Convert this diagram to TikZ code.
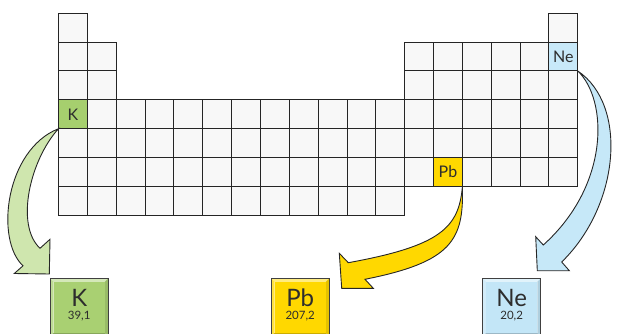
\documentclass[tikz,border=0pt]{standalone}
\usepackage{fontspec}
\setmainfont{Lato}
\usetikzlibrary{calc}
\definecolor{gridfill}{HTML}{F8F8F8}
\definecolor{gridline}{HTML}{252525}
\definecolor{Kcell}{HTML}{A6CF6E}
\definecolor{Karrow}{HTML}{CFE6AE}
\definecolor{Kbox}{HTML}{A9D072}
\definecolor{Pbcell}{HTML}{FFD800}
\definecolor{Pbarrow}{HTML}{FFD800}
\definecolor{Pbbox}{HTML}{FFD800}
\definecolor{Necell}{HTML}{C8E9F9}
\definecolor{Nearrow}{HTML}{C6E8F8}
\definecolor{Nebox}{HTML}{C3E6F7}
\definecolor{txt}{HTML}{2D2D2D}
\begin{document}
\begin{tikzpicture}[x=1pt,y=-1pt,
  cell/.style={draw=gridline, line width=1pt, fill=gridfill, minimum size=28.85pt,
    inner sep=0pt, outer sep=0pt, text=txt, font=\fontsize{16}{16}\selectfont},
  ebox/.style={minimum size=58.3pt, inner sep=0pt, outer sep=0pt},
  boxborder/.style={draw=black!75, line width=0.9pt},
  bigsym/.style={anchor=base, inner sep=0pt, text=txt, font=\fontsize{24}{24}\selectfont},
  mass/.style={anchor=base, inner sep=0pt, text=txt, font=\fontsize{11.5}{11.5}\selectfont},
  bigarrow/.style={draw=black!85, line width=0.9pt, line join=miter},
]
\useasboundingbox (0,0) rectangle (626,334);
\clip (0,0) rectangle (626,334);

% plain cells of the periodic table
\foreach \r/\cl in {1/{1,18},
                    2/{1,2,13,14,15,16,17},
                    3/{1,2,13,14,15,16,17,18},
                    4/{2,3,...,18},
                    5/{1,2,...,18},
                    6/{1,2,...,13,15,16,17,18},
                    7/{1,2,...,12}} {
  \foreach \c in \cl {
    \node[cell] (c\r-\c) at ({58.5+(\c-0.5)*28.85},{13.3+(\r-0.5)*28.85}) {};
  }
}
% highlighted cells
\node[cell, fill=Kcell]  (K)  at ({58.5+0.5*28.85},{13.3+3.5*28.85}) {K};
\node[cell, fill=Pbcell] (Pb) at ({58.5+13.5*28.85},{13.3+5.5*28.85}) {Pb};
\node[cell, fill=Necell] (Ne) at ({58.5+17.5*28.85},{13.3+1.5*28.85}) {Ne};

% arrow heads
\coordinate (kOj) at (23,265.8);
\coordinate (kB1) at (14.3,273.5);
\coordinate (kTip) at (49.3,274);
\coordinate (kB2) at (50,239.3);
\coordinate (kIj) at (40,248.3);

\coordinate (pUj) at (348.3,262.7);
\coordinate (pB1) at (339.3,253.3);
\coordinate (pTip) at (341.7,288.3);
\coordinate (pB2) at (373.3,288.3);
\coordinate (pLj) at (365,279.3);

\coordinate (nOj) at (561.7,262);
\coordinate (nB1) at (569.3,270.7);
\coordinate (nTip) at (537.3,270.7);
\coordinate (nB2) at (535.7,236.7);
\coordinate (nIj) at (543.3,245);

\draw[bigarrow, fill=Karrow] (K.south west) .. controls (5,150) and (-5,240) .. (kOj)
  -- (kB1) -- (kTip) -- (kB2) -- (kIj) .. controls (15,225) and (30,160) .. (K.south west) -- cycle;
\draw[bigarrow, fill=Pbarrow] (Pb.south east) .. controls (459,228) and (440,246) .. (pUj)
  -- (pB1) -- (pTip) -- (pB2) -- (pLj) .. controls (452,262) and (464,240) .. (Pb.south east) -- cycle;
\draw[bigarrow, fill=Nearrow] (Ne.south east) .. controls (628,105) and (620,205) .. (nOj)
  -- (nB1) -- (nTip) -- (nB2) -- (nIj) .. controls (610,185) and (608,100) .. (Ne.south east) -- cycle;

% element boxes
\node[ebox] (bK)  at (79.2,307.45) {};
\node[ebox] (bPb) at (300.2,307.45) {};
\node[ebox] (bNe) at (511.7,307.45) {};
\foreach \b/\col in {bK/Kbox, bPb/Pbbox, bNe/Nebox} {
  \fill[\col!50!white] (\b.north west) -- (\b.north east)
     -- ($(\b.north east)+(-3.5pt,-3.5pt)$) -- ($(\b.north west)+(3.5pt,-3.5pt)$) -- cycle;
  \fill[\col!75!white] (\b.north west) -- ($(\b.north west)+(3.5pt,-3.5pt)$)
     -- ($(\b.south west)+(3.5pt,3.5pt)$) -- (\b.south west) -- cycle;
  \fill[\col!90!black] (\b.north east) -- ($(\b.north east)+(-3.5pt,-3.5pt)$)
     -- ($(\b.south east)+(-3.5pt,3.5pt)$) -- (\b.south east) -- cycle;
  \fill[\col!80!black] (\b.south west) -- ($(\b.south west)+(3.5pt,3.5pt)$)
     -- ($(\b.south east)+(-3.5pt,3.5pt)$) -- (\b.south east) -- cycle;
  \fill[\col] ($(\b.north west)+(3.5pt,-3.5pt)$) rectangle ($(\b.south east)+(-3.5pt,3.5pt)$);
  \draw[boxborder] (\b.north west) rectangle (\b.south east);
}
\node[bigsym] (tK)  at (79.2,306) {K};
\node[mass]   (mK)  at (79.2,319.5) {39,1};
\node[bigsym] (tPb) at (300.2,306) {Pb};
\node[mass]   (mPb) at (300.2,319.5) {207,2};
\node[bigsym] (tNe) at (511.7,306) {Ne};
\node[mass]   (mNe) at (511.7,319.5) {20,2};
\end{tikzpicture}
\end{document}
